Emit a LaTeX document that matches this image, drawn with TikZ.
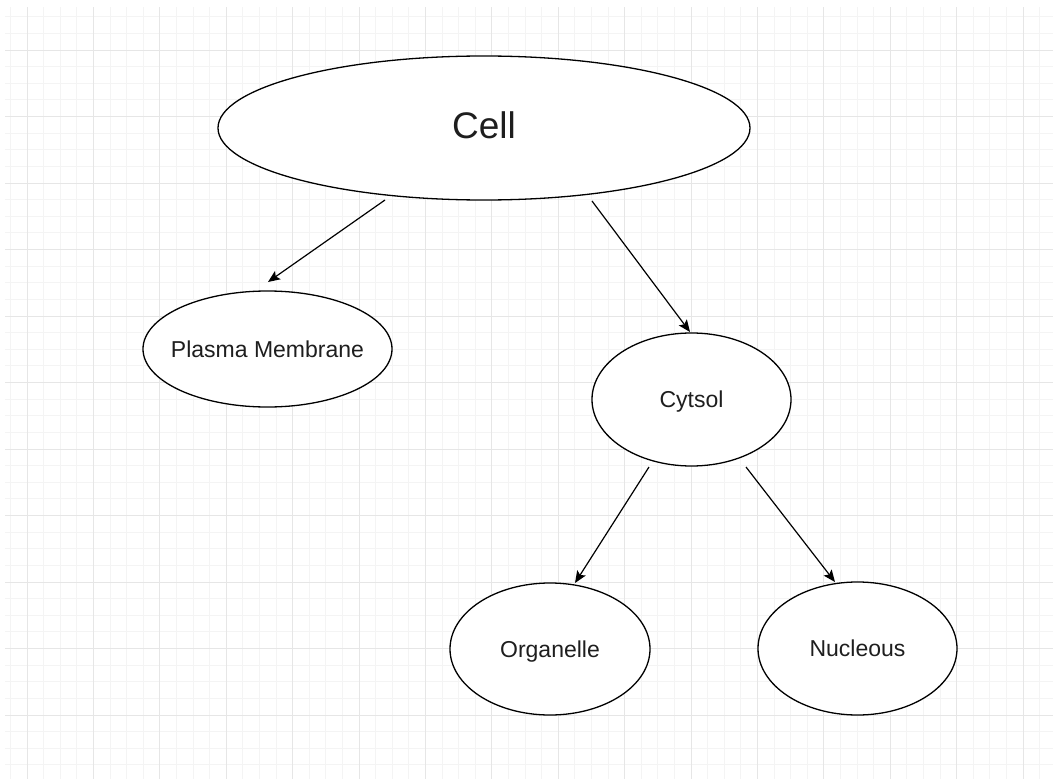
\documentclass[tikz,border=0pt]{standalone}
\usepackage{fontspec}
\setmainfont{Liberation Sans}
\usetikzlibrary{shapes.geometric,arrows.meta,calc}
\definecolor{minorgrid}{HTML}{F4F4F4}
\definecolor{majorgrid}{HTML}{E6E6E6}
\definecolor{txt}{HTML}{1E1E1E}
\tikzset{
  oval/.style={ellipse, draw=black, line width=1.3pt, fill=white, inner sep=0pt, text=txt,
    text height=16.5pt, text depth=0pt, font=\fontsize{23}{27}\selectfont},
  link/.style={draw=black, line width=1.2pt, -{Stealth[length=12pt,width=10pt,inset=2.5pt]}},
}
\newcommand{\lbl}[1]{\makebox[0pt][c]{#1}}
\begin{document}
\begin{tikzpicture}[x=1pt,y=-1pt]
\useasboundingbox (0,0) rectangle (1053,779);
\fill[white] (0,0) rectangle (1053,779);
\begin{scope}
\clip (5,7) rectangle (1053,779);
\foreach \i in {-2,...,64} {
  \draw[minorgrid, line width=1pt] ({27+16.6*\i},0) -- ({27+16.6*\i},779);
}
\foreach \j in {-3,...,45} {
  \draw[minorgrid, line width=1pt] (0,{50+16.625*\j}) -- (1053,{50+16.625*\j});
}
\foreach \i in {-1,...,16} {
  \draw[majorgrid, line width=1pt] ({27+66.4*\i},0) -- ({27+66.4*\i},779);
}
\foreach \j in {-1,...,11} {
  \draw[majorgrid, line width=1pt] (0,{50+66.5*\j}) -- (1053,{50+66.5*\j});
}
\end{scope}

\node[oval, minimum width=532pt, minimum height=144pt, text height=26.6pt, text depth=6pt, font=\fontsize{37}{42}\selectfont] (cell) at (484,128) {\lbl{Cell}};
\node[oval, minimum width=249pt, minimum height=116pt] (pm) at (267.5,349) {\lbl{Plasma Membrane}};
\node[oval, minimum width=199pt, minimum height=133pt] (cy) at (691.5,399.5) {\lbl{Cytsol}};
\node[oval, minimum width=200pt, minimum height=132pt] (org) at (550,649) {\lbl{Organelle}};
\node[oval, minimum width=199pt, minimum height=133pt] (nuc) at (857.5,648.5) {\lbl{Nucleous}};

\draw[link] ($(cell.center)+(-99,72)$) -- ($(pm.center)+(0.5,-67)$);
\draw[link] ($(cell.center)+(108,73)$) -- ($(cy.center)+(-1.5,-67.5)$);
\draw[link] ($(cy.center)+(-42.5,67.5)$) -- ($(org.center)+(25,-66)$);
\draw[link] ($(cy.center)+(54.5,67.5)$) -- ($(nuc.center)+(-22.5,-66.5)$);
\end{tikzpicture}
\end{document}
